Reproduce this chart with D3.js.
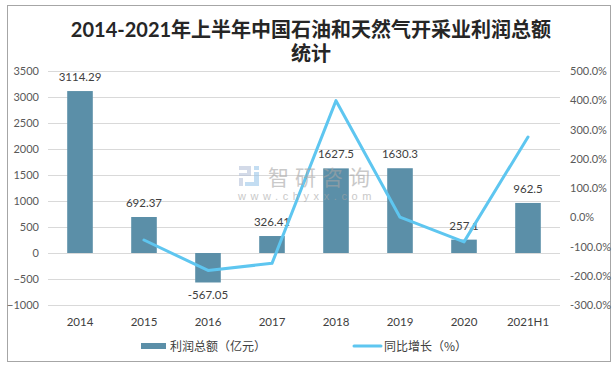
<!DOCTYPE html>
<html><head><meta charset="utf-8">
<script src="https://cdn.jsdelivr.net/npm/d3@7"></script>
<style>
html,body{margin:0;padding:0;background:#fff;}
svg{display:block;}
</style></head>
<body>
<svg id="chart" width="616" height="365"></svg>
<script>
const categories = ["2014","2015","2016","2017","2018","2019","2020","2021H1"];
const profit = [3114.29, 692.37, -567.05, 326.41, 1627.5, 1630.3, 257.1, 962.5];
const profitLabels = ["3114.29","692.37","-567.05","326.41","1627.5","1630.3","257.1","962.5"];
const growth = [null, -77.8, -181.9, -157.6, 398.6, 0.2, -84.2, 274.4];
const leftTicks = [-1000,-500,0,500,1000,1500,2000,2500,3000,3500];
const rightTicks = [-300,-200,-100,0,100,200,300,400,500];
const titleLines = ["2014-2021年上半年中国石油和天然气开采业利润总额","统计"];
const legendLabels = ["利润总额（亿元）","同比增长（%）"];

const svg = d3.select("#chart");
const plot = {left:48, right:560, top:71, bottom:305};
const numFont = "Lato, 'Open Sans', sans-serif";
const cjkFont = "'Noto Sans CJK SC', sans-serif";
const mixFont = "Lato, 'Noto Sans CJK SC', sans-serif";
const wmFont = "'Liberation Sans', 'Noto Sans CJK SC', sans-serif";

// border
svg.append("rect").attr("x",7.5).attr("y",5.5).attr("width",603).attr("height",356)
  .attr("fill","#fff").attr("stroke","#a6a6a6").attr("stroke-width",1);

const x = d3.scaleBand().domain(categories).range([plot.left, plot.right]).paddingInner(0.6).paddingOuter(0.3);
const y = d3.scaleLinear().domain([-1000,3500]).range([plot.bottom, plot.top]);
const y2 = d3.scaleLinear().domain([-300,500]).range([plot.bottom, plot.top]);

// gridlines
svg.append("g").selectAll("line").data(leftTicks).join("line")
  .attr("x1",plot.left).attr("x2",plot.right)
  .attr("y1",d=>Math.round(y(d))+0.5).attr("y2",d=>Math.round(y(d))+0.5)
  .attr("stroke","#d9d9d9").attr("stroke-width",1);

// left axis
const yAxis = d3.axisLeft(y).tickValues(leftTicks).tickSize(0).tickPadding(0).tickFormat(d3.format("d"));
const gL = svg.append("g").attr("transform",`translate(${plot.left-9},0)`).call(yAxis);
gL.select(".domain").remove();
gL.selectAll("text").attr("font-family",numFont).attr("font-size",11).attr("fill","#595959");

// right axis
const y2Axis = d3.axisRight(y2).tickValues(rightTicks).tickSize(0).tickPadding(0).tickFormat(d=>d.toFixed(1)+"%");
const gR = svg.append("g").attr("transform",`translate(${plot.right+10},0)`).call(y2Axis);
gR.select(".domain").remove();
gR.selectAll("text").attr("font-family",numFont).attr("font-size",11).attr("fill","#595959");

// x axis labels
const xAxis = d3.axisBottom(x).tickSize(0).tickPadding(0);
const gX = svg.append("g").attr("transform",`translate(0,${plot.bottom+13})`).call(xAxis);
gX.select(".domain").remove();
gX.selectAll("text").attr("font-family",numFont).attr("font-size",11.5).attr("fill","#404040");

// bars
svg.append("g").selectAll("rect").data(profit).join("rect")
  .attr("x",(d,i)=>x(categories[i]))
  .attr("width",x.bandwidth())
  .attr("y",d=>y(Math.max(0,d)))
  .attr("height",d=>Math.abs(y(d)-y(0)))
  .attr("fill","#5b8fa8");

// bar labels
svg.append("g").selectAll("text").data(profit).join("text")
  .attr("x",(d,i)=>x(categories[i])+x.bandwidth()/2)
  .attr("y",d=>d>=0 ? y(d)-10 : y(d)+17)
  .attr("text-anchor","middle")
  .attr("font-family",numFont).attr("font-size",11.5).attr("fill","#404040")
  .text((d,i)=>profitLabels[i]);

// line
const line = d3.line()
  .defined(d=>d!==null)
  .x((d,i)=>x(categories[i])+x.bandwidth()/2)
  .y(d=>y2(d));
svg.append("path").datum(growth).attr("d",line)
  .attr("fill","none").attr("stroke","#5ec6f0").attr("stroke-width",3).attr("stroke-linejoin","round").attr("stroke-linecap","round");

// watermark (drawn over the marks, semi-transparent)
const wm = svg.append("g").attr("opacity",0.6);
const wmx = 239, wmy = 166;
wm.append("rect").attr("x",wmx).attr("y",wmy).attr("width",11).attr("height",4).attr("fill","#b7c3d9");
wm.append("rect").attr("x",wmx+8).attr("y",wmy).attr("width",4).attr("height",10).attr("fill","#b7c3d9");
wm.append("rect").attr("x",wmx).attr("y",wmy+7).attr("width",10).attr("height",3).attr("fill","#b7c3d9");
wm.append("rect").attr("x",wmx).attr("y",wmy+12).attr("width",4).attr("height",8).attr("fill","#b7c3d9");
wm.append("rect").attr("x",wmx+15).attr("y",wmy).attr("width",5).attr("height",4).attr("fill","#9cc7ea");
wm.append("rect").attr("x",wmx+15).attr("y",wmy+6).attr("width",5).attr("height",10).attr("fill","#9cc7ea");
wm.append("rect").attr("x",wmx+6).attr("y",wmy+16).attr("width",14).attr("height",4).attr("fill","#9cc7ea");
wm.append("text").attr("x",wmx+29).attr("y",wmy+19).attr("font-family",wmFont).attr("font-size",21)
  .attr("fill","#a6a6a6").attr("letter-spacing",6).text("智研咨询");
wm.append("text").attr("x",wmx-1).attr("y",wmy+33.5).attr("font-family",wmFont).attr("font-size",11)
  .attr("fill","#a6a6a6").attr("letter-spacing",4.6).text("www.chyxx.com");

// title
const title = svg.append("text").attr("text-anchor","middle").attr("font-family",mixFont)
  .attr("font-weight","bold").attr("font-size",20).attr("fill","#262626");
titleLines.forEach((t,i)=>{
  title.append("tspan").attr("x",311).attr("y",36.5+i*24.5).text(t);
});

// legend
const lg = svg.append("g");
lg.append("rect").attr("x",141).attr("y",343).attr("width",25).attr("height",6).attr("fill","#5b8fa8");
lg.append("text").attr("x",170).attr("y",351).attr("font-family",cjkFont).attr("font-size",12).attr("fill","#404040").text(legendLabels[0]);
lg.append("line").attr("x1",354).attr("x2",381).attr("y1",346).attr("y2",346).attr("stroke","#5ec6f0").attr("stroke-width",3).attr("stroke-linecap","round");
lg.append("text").attr("x",384).attr("y",351).attr("font-family",cjkFont).attr("font-size",12).attr("fill","#404040").text(legendLabels[1]);
</script>
</body></html>
